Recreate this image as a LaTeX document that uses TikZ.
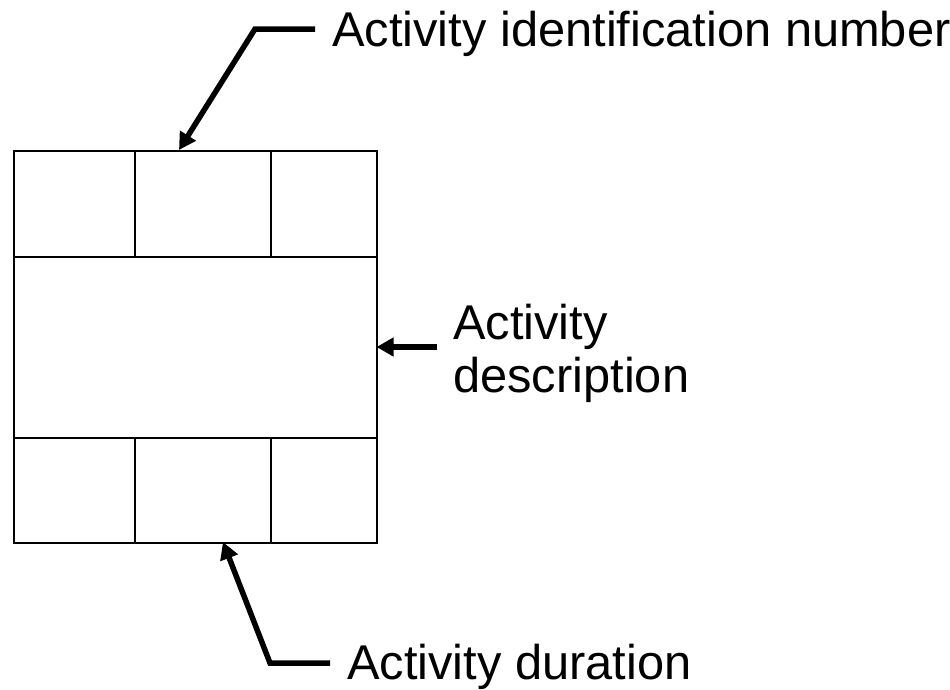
\documentclass[tikz,border=0pt]{standalone}
\usepackage{fontspec}
\setmainfont{Liberation Sans}
\usetikzlibrary{arrows.meta}
\begin{document}
\begin{tikzpicture}[x=1pt,y=-1pt,
  cell/.style={draw=black,line width=2pt,minimum width=0pt,minimum height=0pt,inner sep=0pt},
  lbl/.style={font=\fontsize{48.8}{53}\selectfont,inner sep=0pt,align=left},
  pointer/.style={line width=5.5pt,-{Triangle[length=17pt,width=18pt]}}]
\useasboundingbox (0,0) rectangle (950,689);
% activity box: three rows of cells
\node[cell,minimum width=121.5pt,minimum height=105.5pt,anchor=north west] (c11) at (12.5,150) {};
\node[cell,minimum width=135.5pt,minimum height=105.5pt,anchor=north west] (c12) at (134,150) {};
\node[cell,minimum width=106pt,minimum height=105.5pt,anchor=north west] (c13) at (269.5,150) {};
\node[cell,minimum width=363pt,minimum height=181.2pt,anchor=north west] (mid) at (12.5,255.5) {};
\node[cell,minimum width=121.5pt,minimum height=105.3pt,anchor=north west] (c31) at (12.5,436.7) {};
\node[cell,minimum width=135.5pt,minimum height=105.3pt,anchor=north west] (c32) at (134,436.7) {};
\node[cell,minimum width=106pt,minimum height=105.3pt,anchor=north west] (c33) at (269.5,436.7) {};
% labels
\node[lbl,anchor=base west] (idlbl) at (332,46) {Activity identification number};
\node[lbl,anchor=base west] (desclbl) at (453,392) {Activity\\description};
\node[lbl,anchor=base west] (durlbl) at (347,679) {Activity duration};
% pointer bends and ends
\coordinate (idstart) at (315,29);
\coordinate (idbend) at (255,29);
\coordinate (idtip) at (179,150);
\coordinate (descstart) at (437,347);
\coordinate (desctip) at (376.5,347);
\coordinate (durstart) at (330,663);
\coordinate (durbend) at (270,663);
\coordinate (durtip) at (223,542);
% pointers
\draw[pointer] (idstart) -- (idbend) -- (idtip);
\draw[pointer] (descstart) -- (desctip);
\draw[pointer] (durstart) -- (durbend) -- (durtip);
\end{tikzpicture}
\end{document}
